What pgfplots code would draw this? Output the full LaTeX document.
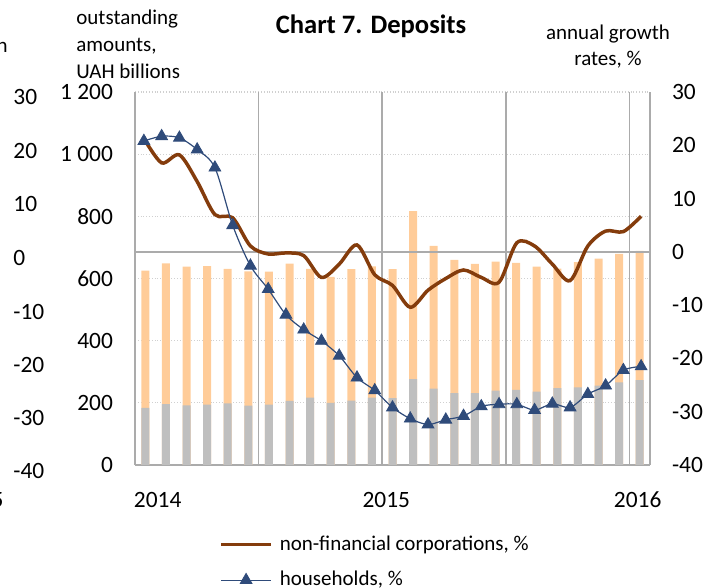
\documentclass[border=0pt]{standalone}
\usepackage{pgfplots}
\pgfplotsset{compat=1.18}
\usepackage{fontspec}
\setmainfont{Carlito}
\definecolor{barorange}{HTML}{FFCC99}
\definecolor{bargray}{HTML}{BFBFBF}
\definecolor{nfcbrown}{HTML}{843C0C}
\definecolor{hhblue}{HTML}{2F4B7A}
\definecolor{gridgray}{HTML}{D0D0D0}
\definecolor{linegray}{HTML}{ABABAB}
\pgfplotstableread{
x total gray
0 625 184
1 649 196
2 638 192
3 640 194
4 631 198
5 623 191
6 622 194
7 648 206
8 631 217
9 605 200
10 630 207
11 639 217
12 630 215
13 817 276
14 705 246
15 660 231
16 647 231
17 654 239
18 650 242
19 638 236
20 632 247
21 653 250
22 664 255
23 679 266
24 689 273
}\bars
\begin{document}
\begin{tikzpicture}
\useasboundingbox (0,0) rectangle (359pt,-294pt);
\begin{axis}[
  at={(67.5pt,-232.5pt)}, anchor=south west,
  scale only axis, width=257.5pt, height=186.5pt,
  xmin=-0.5, xmax=24.5, ymin=0, ymax=1200,
  axis x line*=bottom, axis y line*=left,
  axis line style={-, draw=linegray, line width=0.75pt},
  major tick length=0pt,
  ytick={0,200,400,600,800,1000,1200},
  yticklabels={0,200,400,600,800,{1 000},{1 200}},
  ymajorgrids, major grid style={densely dotted, draw=gridgray, line width=0.6pt},
  xtick={0.6,11.7,23.9}, xticklabels={2014,2015,2016},
  tick label style={font=\fontsize{11.7}{14}\selectfont},
  yticklabel style={xshift=-7.5pt},
  xticklabel style={yshift=-10pt},
  extra x ticks={5.5,11.5,17.5,23.5}, extra x tick labels={},
  extra x tick style={grid=major, major grid style={solid, draw=linegray, line width=0.75pt}},
  clip=false,
]
\addplot[ybar, bar width=4pt, bar shift=0pt, fill=barorange, draw=none] table[x=x, y=total] {\bars};
\addplot[ybar, bar width=4pt, bar shift=0pt, fill=bargray, draw=none] table[x=x, y=gray] {\bars};
\end{axis}
\begin{axis}[
  at={(67.5pt,-232.5pt)}, anchor=south west,
  scale only axis, width=257.5pt, height=186.5pt,
  xmin=-0.5, xmax=28.5, ymin=-40, ymax=30,
  axis x line=none, axis y line*=right,
  axis line style={-, draw=linegray, line width=0.75pt},
  major tick length=0pt,
  ytick={-40,-30,-20,-10,0,10,20,30},
  yticklabels={-40,-30,-20,-10,0,10,20,30},
  tick label style={font=\fontsize{11.7}{14}\selectfont},
  yticklabel style={xshift=7.5pt},
  extra y ticks={0}, extra y tick labels={},
  extra y tick style={grid=major, major grid style={solid, draw=linegray, line width=0.75pt}},
  clip=false,
  legend cell align=left,
  legend image code/.code={\draw[mark repeat=2,mark phase=2,#1] plot coordinates {(0pt,0pt) (12.5pt,0pt) (25pt,0pt)};},
  legend style={at={(0.163,-0.178)}, anchor=north west, draw=none, fill=none, inner sep=0pt,
    row sep=5pt, font=\fontsize{10.5}{12.6}\selectfont, nodes={inner xsep=3.5pt}},
]
\addplot[nfcbrown, line width=1.75pt, smooth] coordinates {
(0,21.3) (1,16.7) (2,18.2) (3,13.2) (4,7.0) (5,6.4) (6,1.1) (7,-0.4) (8,-0.2) (9,-0.7)
(10,-4.8) (11,-2.3) (12,1.3) (13,-4.3) (14,-6.3) (15,-10.4) (16,-7.2) (17,-5.0) (18,-3.4)
(19,-4.8) (20,-5.7) (21,1.7) (22,1.1) (23,-2.3) (24,-5.4) (25,1.1) (26,3.9) (27,3.8) (28,6.7)
};
\addlegendentry{non-financial corporations, \%}
\addplot[hhblue, line width=0.6pt, smooth, mark=triangle*, mark size=3.4pt, mark options={fill=hhblue, draw=hhblue, line width=0.4pt}] coordinates {
(0,20.8) (1,21.7) (2,21.4) (3,19.2) (4,15.8) (5,5.0) (6,-2.6) (7,-7.0) (8,-11.8) (9,-14.6)
(10,-16.7) (11,-19.5) (12,-23.6) (13,-26.0) (14,-29.2) (15,-31.3) (16,-32.4) (17,-31.5)
(18,-30.8) (19,-29.0) (20,-28.6) (21,-28.6) (22,-29.7) (23,-28.5) (24,-29.2) (25,-26.7)
(26,-25.1) (27,-22.2) (28,-21.5)
};
\addlegendentry{households, \%}
\end{axis}
\node[font=\fontsize{13.3}{16}\selectfont\bfseries] at (185.5pt,-13pt) {Chart 7. Deposits};
\node[anchor=north west, align=left, inner sep=0pt, font=\fontsize{10.5}{13.5}\selectfont] at (38pt,-5pt) {outstanding\\amounts,\\UAH billions};
\node[anchor=north, align=center, inner sep=0pt, font=\fontsize{10.5}{13}\selectfont] at (304pt,-12.5pt) {annual growth\\rates, \%};
\begin{scope}[font=\fontsize{11.7}{14}\selectfont]
\node[anchor=west, inner sep=0pt] at (6.5pt,-48.5pt) {30};
\node[anchor=west, inner sep=0pt] at (6.5pt,-75.5pt) {20};
\node[anchor=west, inner sep=0pt] at (6.5pt,-102pt) {10};
\node[anchor=west, inner sep=0pt] at (6.5pt,-129pt) {0};
\node[anchor=west, inner sep=0pt] at (6.5pt,-156pt) {-10};
\node[anchor=west, inner sep=0pt] at (6.5pt,-182.5pt) {-20};
\node[anchor=west, inner sep=0pt] at (6.5pt,-209pt) {-30};
\node[anchor=west, inner sep=0pt] at (6.5pt,-235.5pt) {-40};
\node[anchor=east, inner sep=0pt] at (2pt,-250pt) {5};
\end{scope}
\node[anchor=east, inner sep=0pt, font=\fontsize{10.5}{13}\selectfont] at (4pt,-23.5pt) {n};
\end{tikzpicture}
\end{document}
